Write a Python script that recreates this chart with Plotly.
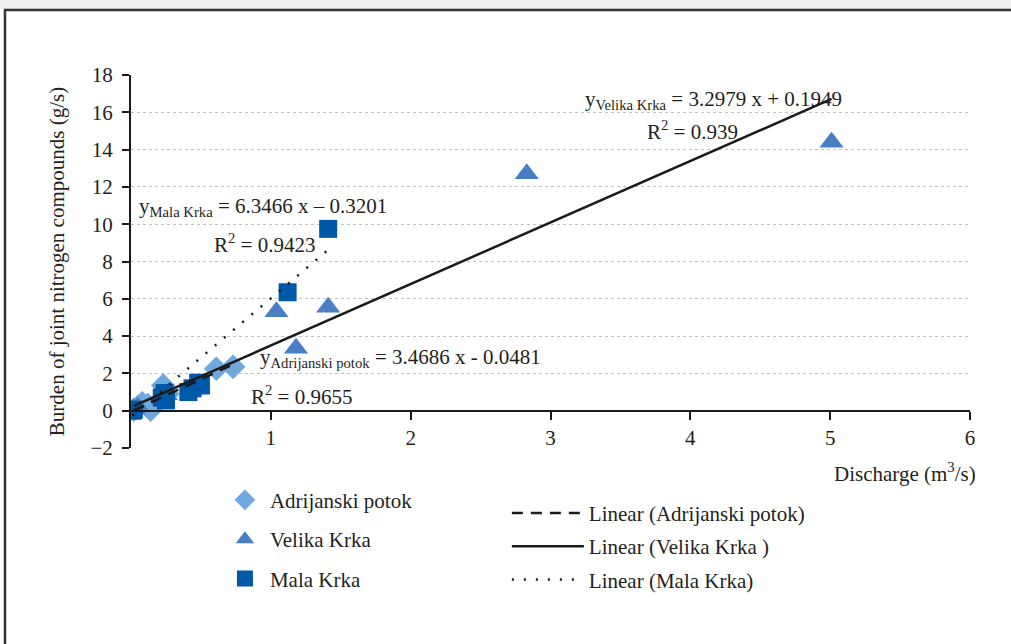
import plotly.graph_objects as go

# ---- data ----
adr_x = [0.02, 0.05, 0.08, 0.12, 0.14, 0.23, 0.26, 0.61, 0.73]
adr_y = [0.05, 0.2, 0.4, 0.3, 0.05, 1.35, 0.9, 2.25, 2.35]

vel_x = [0.02, 0.05, 0.25, 1.04, 1.18, 1.41, 2.83, 5.01]
vel_y = [0.1, 0.2, 0.85, 5.3, 3.35, 5.55, 12.7, 14.4]

mal_x = [0.01, 0.02, 0.22, 0.24, 0.25, 0.41, 0.44, 0.48, 0.50, 1.12, 1.41]
mal_y = [0.0, 0.05, 0.7, 0.95, 0.55, 1.0, 1.2, 1.5, 1.35, 6.35, 9.75]

# trendline coefficients (slope, intercept) as printed on the chart
adr_fit = [3.4686, -0.0481]
vel_fit = [3.2979, 0.1949]
mal_fit = [6.3466, -0.3201]

x_ticks = [1, 2, 3, 4, 5, 6]

FONT = "Liberation Serif"
FS = 21
TXT = "#231f20"
C_ADR = "#6fa8dc"
C_VEL = "#4a7ec4"
C_MAL = "#0058a8"


def trend(xs, fit):
    x0, x1 = min(xs), max(xs)
    return [x0, x1], [fit[0] * x0 + fit[1], fit[0] * x1 + fit[1]]


fig = go.Figure()

fig.add_trace(go.Scatter(x=adr_x, y=adr_y, mode="markers", name="Adrijanski potok",
                         marker=dict(symbol="diamond", size=19, color=C_ADR),
                         legend="legend", legendgroup="a"))
fig.add_trace(go.Scatter(x=vel_x, y=vel_y, mode="markers", name="Velika Krka",
                         marker=dict(symbol="triangle-up", size=21, color=C_VEL),
                         legend="legend", legendgroup="b"))
fig.add_trace(go.Scatter(x=mal_x, y=mal_y, mode="markers", name="Mala Krka",
                         marker=dict(symbol="square", size=18, color=C_MAL),
                         legend="legend", legendgroup="c"))

tx, ty = trend(adr_x, adr_fit)
fig.add_trace(go.Scatter(x=tx, y=ty, mode="lines", name="Linear (Adrijanski potok)",
                         line=dict(color="#1a1a1a", width=2.5, dash="11px,8px"),
                         legend="legend2", legendgroup="d"))
tx, ty = trend(vel_x, vel_fit)
fig.add_trace(go.Scatter(x=tx, y=ty, mode="lines", name="Linear (Velika Krka )",
                         line=dict(color="#1a1a1a", width=2.5),
                         legend="legend2", legendgroup="e"))
tx, ty = trend(mal_x, mal_fit)
fig.add_trace(go.Scatter(x=tx, y=ty, mode="lines", name="Linear (Mala Krka)",
                         line=dict(color="#1a1a1a", width=2.5, dash="2px,10px"),
                         legend="legend2", legendgroup="f"))

ann_font = dict(family=FONT, size=FS, color=TXT)
annotations = [
    dict(x=3.233, y=16.66, text="y<sub>Velika Krka</sub> = 3.2979 x + 0.1949"),
    dict(x=3.677, y=15.05, text="R<sup>2</sup> = 0.939"),
    dict(x=0.043, y=10.92, text="y<sub>Mala Krka</sub> = 6.3466 x – 0.3201"),
    dict(x=0.579, y=8.99, text="R<sup>2</sup> = 0.9423"),
    dict(x=0.908, y=2.83, text="y<sub>Adrijanski potok</sub> = 3.4686 x - 0.0481"),
    dict(x=0.844, y=0.84, text="R<sup>2</sup> = 0.9655"),
]
for a in annotations:
    a.update(xref="x", yref="y", xanchor="left", yanchor="middle", showarrow=False, font=ann_font)
annotations.append(dict(x=0.9225, y=-0.067, xref="paper", yref="paper", showarrow=False,
                        text="Discharge (m<sup>3</sup>/s)", font=ann_font,
                        xanchor="center", yanchor="middle"))

fig.update_layout(
    width=1011, height=644,
    margin=dict(l=131, r=41, t=75, b=196),
    paper_bgcolor="white", plot_bgcolor="white",
    font=dict(family=FONT, size=FS, color=TXT),
    annotations=annotations,
    xaxis=dict(range=[0, 6], tickvals=x_ticks, anchor="free", position=0.1,
               showline=True, linecolor="#1a1a1a", linewidth=2,
               ticks="outside", ticklen=8, tickwidth=1.5, tickcolor="#1a1a1a",
               showgrid=False, zeroline=False,
               tickfont=dict(family=FONT, size=FS, color=TXT)),
    yaxis=dict(range=[-2, 18], dtick=2, showline=True, linecolor="#1a1a1a", linewidth=2,
               ticks="outside", ticklen=7, tickwidth=1.5, tickcolor="#1a1a1a",
               ticklabelstandoff=5,
               showgrid=True, gridcolor="#c2c2c2", gridwidth=1, griddash="dot",
               zeroline=False,
               tickfont=dict(family=FONT, size=FS, color=TXT),
               title=dict(text="Burden of joint nitrogen compounds (g/s)",
                          font=dict(family=FONT, size=FS, color=TXT), standoff=20)),
    legend=dict(x=0.106, y=-0.085, xanchor="left", yanchor="top",
                traceorder="grouped", tracegroupgap=9, itemsizing="trace", itemwidth=40,
                bgcolor="rgba(0,0,0,0)", font=dict(family=FONT, size=FS, color=TXT)),
    legend2=dict(x=0.448, y=-0.12, xanchor="left", yanchor="top",
                 traceorder="grouped", tracegroupgap=3, itemwidth=72,
                 bgcolor="rgba(0,0,0,0)", font=dict(family=FONT, size=FS, color=TXT)),
    shapes=[
        dict(type="rect", xref="paper", yref="paper", x0=-0.2, x1=1.1, y0=1.177, y1=1.21,
             fillcolor="#eeeeee", line=dict(width=0), layer="below"),
        dict(type="rect", xref="paper", yref="paper", x0=-0.1502, x1=1.06, y0=-0.568, y1=1.1743,
             line=dict(color="#333333", width=2.5), fillcolor="rgba(0,0,0,0)"),
    ],
)

fig.write_html("out.html")
